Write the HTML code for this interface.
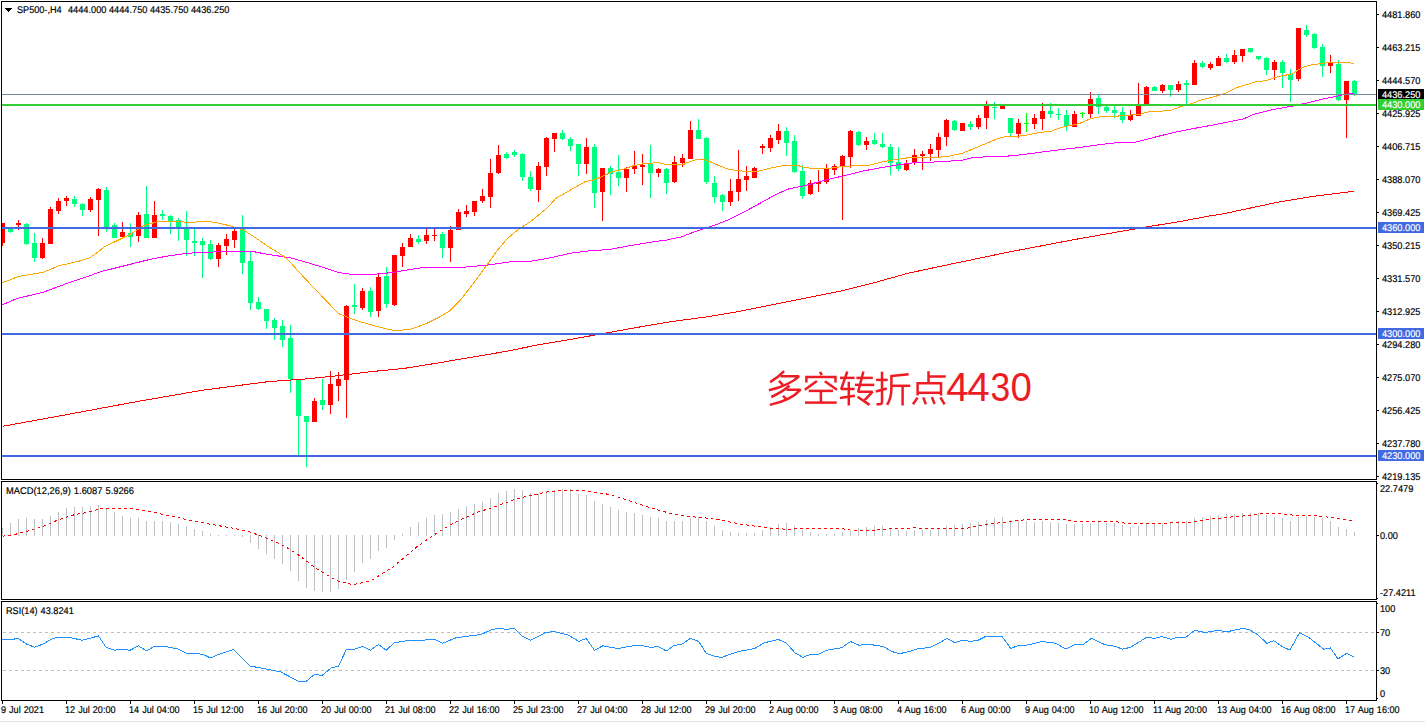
<!DOCTYPE html>
<html><head><meta charset="utf-8"><title>SP500 H4</title>
<style>
html,body{margin:0;padding:0;background:#fff;}
body{width:1425px;height:723px;overflow:hidden;font-family:"Liberation Sans",sans-serif;}
svg{display:block;}
svg text{font-family:"Liberation Sans",sans-serif;}
.t{font-size:9.8px;fill:#000;stroke:#000;stroke-width:0.18px;word-spacing:0.5px;text-rendering:geometricPrecision;}
.w{font-size:9.8px;fill:#fff;stroke:#fff;stroke-width:0.18px;text-rendering:geometricPrecision;}
.ce{shape-rendering:crispEdges;}
.pl{fill:none;stroke-width:1;shape-rendering:crispEdges;stroke-linejoin:round;}
.zh{fill:none;stroke:#ed1c24;stroke-width:2.5;stroke-linecap:butt;stroke-linejoin:miter;stroke-miterlimit:1.5;}
</style></head><body>
<svg width="1425" height="723" viewBox="0 0 1425 723">
<rect x="0" y="0" width="1425" height="723" fill="#fff"/>
<g class="ce">
<rect x="2" y="223" width="1" height="23" fill="#ff0000"/>
<rect x="2" y="223" width="3" height="20" fill="#ff0000"/>
<rect x="10" y="227" width="1" height="6" fill="#00ff7f"/>
<rect x="8" y="227" width="5" height="5" fill="#00ff7f"/>
<rect x="18" y="220" width="1" height="10" fill="#ff0000"/>
<rect x="16" y="223" width="5" height="2" fill="#ff0000"/>
<rect x="26" y="223" width="1" height="22" fill="#00ff7f"/>
<rect x="24" y="224" width="5" height="20" fill="#00ff7f"/>
<rect x="34" y="233" width="1" height="29" fill="#00ff7f"/>
<rect x="32" y="243" width="5" height="15" fill="#00ff7f"/>
<rect x="42" y="238" width="1" height="21" fill="#ff0000"/>
<rect x="40" y="243" width="5" height="15" fill="#ff0000"/>
<rect x="50" y="207" width="1" height="37" fill="#ff0000"/>
<rect x="48" y="209" width="5" height="35" fill="#ff0000"/>
<rect x="58" y="198" width="1" height="16" fill="#ff0000"/>
<rect x="56" y="201" width="5" height="10" fill="#ff0000"/>
<rect x="66" y="196" width="1" height="10" fill="#ff0000"/>
<rect x="64" y="198" width="5" height="3" fill="#ff0000"/>
<rect x="74" y="196" width="1" height="11" fill="#00ff7f"/>
<rect x="72" y="199" width="5" height="5" fill="#00ff7f"/>
<rect x="82" y="203" width="1" height="13" fill="#00ff7f"/>
<rect x="80" y="204" width="5" height="6" fill="#00ff7f"/>
<rect x="90" y="197" width="1" height="15" fill="#ff0000"/>
<rect x="88" y="199" width="5" height="11" fill="#ff0000"/>
<rect x="98" y="188" width="1" height="48" fill="#ff0000"/>
<rect x="96" y="189" width="5" height="11" fill="#ff0000"/>
<rect x="106" y="187" width="1" height="45" fill="#00ff7f"/>
<rect x="104" y="190" width="5" height="38" fill="#00ff7f"/>
<rect x="114" y="223" width="1" height="15" fill="#00ff7f"/>
<rect x="112" y="225" width="5" height="13" fill="#00ff7f"/>
<rect x="122" y="222" width="1" height="16" fill="#ff0000"/>
<rect x="120" y="232" width="5" height="5" fill="#ff0000"/>
<rect x="130" y="223" width="1" height="24" fill="#00ff7f"/>
<rect x="128" y="233" width="5" height="4" fill="#00ff7f"/>
<rect x="138" y="212" width="1" height="30" fill="#ff0000"/>
<rect x="136" y="215" width="5" height="21" fill="#ff0000"/>
<rect x="146" y="186" width="1" height="52" fill="#00ff7f"/>
<rect x="144" y="214" width="5" height="24" fill="#00ff7f"/>
<rect x="154" y="201" width="1" height="37" fill="#ff0000"/>
<rect x="152" y="215" width="5" height="23" fill="#ff0000"/>
<rect x="162" y="210" width="1" height="10" fill="#00ff7f"/>
<rect x="160" y="214" width="5" height="2" fill="#00ff7f"/>
<rect x="170" y="215" width="1" height="19" fill="#00ff7f"/>
<rect x="168" y="216" width="5" height="5" fill="#00ff7f"/>
<rect x="178" y="218" width="1" height="23" fill="#00ff7f"/>
<rect x="176" y="220" width="5" height="8" fill="#00ff7f"/>
<rect x="186" y="211" width="1" height="45" fill="#00ff7f"/>
<rect x="184" y="227" width="5" height="13" fill="#00ff7f"/>
<rect x="194" y="229" width="1" height="27" fill="#00ff7f"/>
<rect x="192" y="241" width="5" height="2" fill="#00ff7f"/>
<rect x="202" y="238" width="1" height="40" fill="#00ff7f"/>
<rect x="200" y="241" width="5" height="4" fill="#00ff7f"/>
<rect x="210" y="240" width="1" height="20" fill="#00ff7f"/>
<rect x="208" y="244" width="5" height="15" fill="#00ff7f"/>
<rect x="218" y="243" width="1" height="24" fill="#ff0000"/>
<rect x="216" y="245" width="5" height="14" fill="#ff0000"/>
<rect x="226" y="234" width="1" height="21" fill="#ff0000"/>
<rect x="224" y="239" width="5" height="7" fill="#ff0000"/>
<rect x="234" y="229" width="1" height="19" fill="#ff0000"/>
<rect x="232" y="231" width="5" height="9" fill="#ff0000"/>
<rect x="242" y="215" width="1" height="59" fill="#00ff7f"/>
<rect x="240" y="228" width="5" height="35" fill="#00ff7f"/>
<rect x="250" y="252" width="1" height="58" fill="#00ff7f"/>
<rect x="248" y="261" width="5" height="42" fill="#00ff7f"/>
<rect x="258" y="297" width="1" height="13" fill="#00ff7f"/>
<rect x="256" y="302" width="5" height="7" fill="#00ff7f"/>
<rect x="266" y="309" width="1" height="20" fill="#00ff7f"/>
<rect x="264" y="309" width="5" height="12" fill="#00ff7f"/>
<rect x="274" y="318" width="1" height="22" fill="#00ff7f"/>
<rect x="272" y="320" width="5" height="8" fill="#00ff7f"/>
<rect x="282" y="320" width="1" height="27" fill="#00ff7f"/>
<rect x="280" y="326" width="5" height="14" fill="#00ff7f"/>
<rect x="290" y="325" width="1" height="68" fill="#00ff7f"/>
<rect x="288" y="338" width="5" height="41" fill="#00ff7f"/>
<rect x="298" y="379" width="1" height="78" fill="#00ff7f"/>
<rect x="296" y="379" width="5" height="37" fill="#00ff7f"/>
<rect x="306" y="416" width="1" height="51" fill="#00ff7f"/>
<rect x="304" y="416" width="5" height="6" fill="#00ff7f"/>
<rect x="314" y="398" width="1" height="24" fill="#ff0000"/>
<rect x="312" y="401" width="5" height="21" fill="#ff0000"/>
<rect x="322" y="379" width="1" height="31" fill="#00ff7f"/>
<rect x="320" y="400" width="5" height="5" fill="#00ff7f"/>
<rect x="330" y="371" width="1" height="43" fill="#ff0000"/>
<rect x="328" y="384" width="5" height="21" fill="#ff0000"/>
<rect x="338" y="372" width="1" height="29" fill="#ff0000"/>
<rect x="336" y="379" width="5" height="7" fill="#ff0000"/>
<rect x="346" y="305" width="1" height="113" fill="#ff0000"/>
<rect x="344" y="306" width="5" height="74" fill="#ff0000"/>
<rect x="354" y="284" width="1" height="30" fill="#00ff7f"/>
<rect x="352" y="305" width="5" height="2" fill="#00ff7f"/>
<rect x="362" y="288" width="1" height="22" fill="#ff0000"/>
<rect x="360" y="291" width="5" height="17" fill="#ff0000"/>
<rect x="370" y="287" width="1" height="30" fill="#00ff7f"/>
<rect x="368" y="291" width="5" height="21" fill="#00ff7f"/>
<rect x="378" y="274" width="1" height="43" fill="#ff0000"/>
<rect x="376" y="277" width="5" height="34" fill="#ff0000"/>
<rect x="386" y="267" width="1" height="41" fill="#00ff7f"/>
<rect x="384" y="276" width="5" height="28" fill="#00ff7f"/>
<rect x="394" y="255" width="1" height="51" fill="#ff0000"/>
<rect x="392" y="255" width="5" height="50" fill="#ff0000"/>
<rect x="402" y="243" width="1" height="24" fill="#ff0000"/>
<rect x="400" y="247" width="5" height="9" fill="#ff0000"/>
<rect x="410" y="234" width="1" height="13" fill="#ff0000"/>
<rect x="408" y="238" width="5" height="9" fill="#ff0000"/>
<rect x="418" y="235" width="1" height="9" fill="#00ff7f"/>
<rect x="416" y="239" width="5" height="3" fill="#00ff7f"/>
<rect x="426" y="229" width="1" height="15" fill="#ff0000"/>
<rect x="424" y="235" width="5" height="6" fill="#ff0000"/>
<rect x="434" y="229" width="1" height="12" fill="#ff0000"/>
<rect x="432" y="235" width="5" height="1" fill="#ff0000"/>
<rect x="442" y="232" width="1" height="26" fill="#00ff7f"/>
<rect x="440" y="234" width="5" height="14" fill="#00ff7f"/>
<rect x="450" y="226" width="1" height="36" fill="#ff0000"/>
<rect x="448" y="230" width="5" height="18" fill="#ff0000"/>
<rect x="458" y="209" width="1" height="21" fill="#ff0000"/>
<rect x="456" y="212" width="5" height="18" fill="#ff0000"/>
<rect x="466" y="205" width="1" height="12" fill="#ff0000"/>
<rect x="464" y="211" width="5" height="3" fill="#ff0000"/>
<rect x="474" y="201" width="1" height="15" fill="#ff0000"/>
<rect x="472" y="201" width="5" height="11" fill="#ff0000"/>
<rect x="482" y="189" width="1" height="14" fill="#ff0000"/>
<rect x="480" y="196" width="5" height="5" fill="#ff0000"/>
<rect x="490" y="159" width="1" height="49" fill="#ff0000"/>
<rect x="488" y="173" width="5" height="24" fill="#ff0000"/>
<rect x="498" y="145" width="1" height="29" fill="#ff0000"/>
<rect x="496" y="155" width="5" height="18" fill="#ff0000"/>
<rect x="506" y="152" width="1" height="7" fill="#00ff7f"/>
<rect x="504" y="154" width="5" height="4" fill="#00ff7f"/>
<rect x="514" y="150" width="1" height="7" fill="#00ff7f"/>
<rect x="512" y="152" width="5" height="3" fill="#00ff7f"/>
<rect x="522" y="153" width="1" height="28" fill="#00ff7f"/>
<rect x="520" y="154" width="5" height="23" fill="#00ff7f"/>
<rect x="530" y="171" width="1" height="20" fill="#00ff7f"/>
<rect x="528" y="177" width="5" height="12" fill="#00ff7f"/>
<rect x="538" y="162" width="1" height="40" fill="#ff0000"/>
<rect x="536" y="166" width="5" height="24" fill="#ff0000"/>
<rect x="546" y="137" width="1" height="39" fill="#ff0000"/>
<rect x="544" y="138" width="5" height="29" fill="#ff0000"/>
<rect x="554" y="133" width="1" height="19" fill="#ff0000"/>
<rect x="552" y="133" width="5" height="6" fill="#ff0000"/>
<rect x="562" y="130" width="1" height="10" fill="#00ff7f"/>
<rect x="560" y="133" width="5" height="6" fill="#00ff7f"/>
<rect x="570" y="137" width="1" height="14" fill="#00ff7f"/>
<rect x="568" y="139" width="5" height="7" fill="#00ff7f"/>
<rect x="578" y="144" width="1" height="32" fill="#00ff7f"/>
<rect x="576" y="144" width="5" height="20" fill="#00ff7f"/>
<rect x="586" y="138" width="1" height="36" fill="#ff0000"/>
<rect x="584" y="147" width="5" height="17" fill="#ff0000"/>
<rect x="594" y="144" width="1" height="64" fill="#00ff7f"/>
<rect x="592" y="147" width="5" height="46" fill="#00ff7f"/>
<rect x="602" y="168" width="1" height="53" fill="#ff0000"/>
<rect x="600" y="168" width="5" height="24" fill="#ff0000"/>
<rect x="610" y="166" width="1" height="29" fill="#00ff7f"/>
<rect x="608" y="168" width="5" height="6" fill="#00ff7f"/>
<rect x="618" y="155" width="1" height="31" fill="#00ff7f"/>
<rect x="616" y="172" width="5" height="6" fill="#00ff7f"/>
<rect x="626" y="167" width="1" height="25" fill="#ff0000"/>
<rect x="624" y="169" width="5" height="9" fill="#ff0000"/>
<rect x="634" y="151" width="1" height="23" fill="#ff0000"/>
<rect x="632" y="166" width="5" height="3" fill="#ff0000"/>
<rect x="642" y="154" width="1" height="31" fill="#ff0000"/>
<rect x="640" y="165" width="5" height="2" fill="#ff0000"/>
<rect x="650" y="145" width="1" height="53" fill="#00ff7f"/>
<rect x="648" y="164" width="5" height="9" fill="#00ff7f"/>
<rect x="658" y="168" width="1" height="9" fill="#ff0000"/>
<rect x="656" y="169" width="5" height="4" fill="#ff0000"/>
<rect x="666" y="168" width="1" height="26" fill="#00ff7f"/>
<rect x="664" y="169" width="5" height="14" fill="#00ff7f"/>
<rect x="674" y="156" width="1" height="27" fill="#ff0000"/>
<rect x="672" y="162" width="5" height="20" fill="#ff0000"/>
<rect x="682" y="154" width="1" height="13" fill="#ff0000"/>
<rect x="680" y="158" width="5" height="5" fill="#ff0000"/>
<rect x="690" y="121" width="1" height="38" fill="#ff0000"/>
<rect x="688" y="130" width="5" height="29" fill="#ff0000"/>
<rect x="698" y="119" width="1" height="20" fill="#00ff7f"/>
<rect x="696" y="130" width="5" height="9" fill="#00ff7f"/>
<rect x="706" y="137" width="1" height="47" fill="#00ff7f"/>
<rect x="704" y="138" width="5" height="44" fill="#00ff7f"/>
<rect x="714" y="176" width="1" height="27" fill="#00ff7f"/>
<rect x="712" y="183" width="5" height="14" fill="#00ff7f"/>
<rect x="722" y="194" width="1" height="17" fill="#00ff7f"/>
<rect x="720" y="195" width="5" height="7" fill="#00ff7f"/>
<rect x="730" y="179" width="1" height="27" fill="#ff0000"/>
<rect x="728" y="191" width="5" height="11" fill="#ff0000"/>
<rect x="738" y="150" width="1" height="51" fill="#ff0000"/>
<rect x="736" y="179" width="5" height="13" fill="#ff0000"/>
<rect x="746" y="166" width="1" height="25" fill="#ff0000"/>
<rect x="744" y="176" width="5" height="4" fill="#ff0000"/>
<rect x="754" y="167" width="1" height="11" fill="#ff0000"/>
<rect x="752" y="168" width="5" height="10" fill="#ff0000"/>
<rect x="762" y="144" width="1" height="10" fill="#ff0000"/>
<rect x="760" y="146" width="5" height="2" fill="#ff0000"/>
<rect x="770" y="135" width="1" height="17" fill="#ff0000"/>
<rect x="768" y="138" width="5" height="10" fill="#ff0000"/>
<rect x="778" y="124" width="1" height="20" fill="#ff0000"/>
<rect x="776" y="131" width="5" height="9" fill="#ff0000"/>
<rect x="786" y="127" width="1" height="29" fill="#00ff7f"/>
<rect x="784" y="131" width="5" height="12" fill="#00ff7f"/>
<rect x="794" y="135" width="1" height="38" fill="#00ff7f"/>
<rect x="792" y="141" width="5" height="31" fill="#00ff7f"/>
<rect x="802" y="165" width="1" height="34" fill="#00ff7f"/>
<rect x="800" y="171" width="5" height="25" fill="#00ff7f"/>
<rect x="810" y="180" width="1" height="15" fill="#ff0000"/>
<rect x="808" y="183" width="5" height="11" fill="#ff0000"/>
<rect x="818" y="170" width="1" height="22" fill="#ff0000"/>
<rect x="816" y="182" width="5" height="2" fill="#ff0000"/>
<rect x="826" y="164" width="1" height="20" fill="#ff0000"/>
<rect x="824" y="169" width="5" height="13" fill="#ff0000"/>
<rect x="834" y="164" width="1" height="11" fill="#ff0000"/>
<rect x="832" y="166" width="5" height="4" fill="#ff0000"/>
<rect x="842" y="155" width="1" height="65" fill="#ff0000"/>
<rect x="840" y="156" width="5" height="11" fill="#ff0000"/>
<rect x="850" y="130" width="1" height="38" fill="#ff0000"/>
<rect x="848" y="131" width="5" height="26" fill="#ff0000"/>
<rect x="858" y="131" width="1" height="15" fill="#00ff7f"/>
<rect x="856" y="132" width="5" height="13" fill="#00ff7f"/>
<rect x="866" y="137" width="1" height="13" fill="#ff0000"/>
<rect x="864" y="141" width="5" height="4" fill="#ff0000"/>
<rect x="874" y="133" width="1" height="12" fill="#00ff7f"/>
<rect x="872" y="140" width="5" height="4" fill="#00ff7f"/>
<rect x="882" y="133" width="1" height="15" fill="#00ff7f"/>
<rect x="880" y="144" width="5" height="3" fill="#00ff7f"/>
<rect x="890" y="144" width="1" height="31" fill="#00ff7f"/>
<rect x="888" y="147" width="5" height="16" fill="#00ff7f"/>
<rect x="898" y="147" width="1" height="24" fill="#00ff7f"/>
<rect x="896" y="162" width="5" height="7" fill="#00ff7f"/>
<rect x="906" y="160" width="1" height="11" fill="#ff0000"/>
<rect x="904" y="163" width="5" height="7" fill="#ff0000"/>
<rect x="914" y="149" width="1" height="16" fill="#ff0000"/>
<rect x="912" y="155" width="5" height="8" fill="#ff0000"/>
<rect x="922" y="151" width="1" height="19" fill="#ff0000"/>
<rect x="920" y="154" width="5" height="2" fill="#ff0000"/>
<rect x="930" y="144" width="1" height="17" fill="#ff0000"/>
<rect x="928" y="149" width="5" height="5" fill="#ff0000"/>
<rect x="938" y="133" width="1" height="24" fill="#ff0000"/>
<rect x="936" y="137" width="5" height="13" fill="#ff0000"/>
<rect x="946" y="119" width="1" height="27" fill="#ff0000"/>
<rect x="944" y="120" width="5" height="17" fill="#ff0000"/>
<rect x="954" y="120" width="1" height="11" fill="#00ff7f"/>
<rect x="952" y="121" width="5" height="9" fill="#00ff7f"/>
<rect x="962" y="123" width="1" height="8" fill="#ff0000"/>
<rect x="960" y="123" width="5" height="8" fill="#ff0000"/>
<rect x="970" y="121" width="1" height="9" fill="#00ff7f"/>
<rect x="968" y="124" width="5" height="3" fill="#00ff7f"/>
<rect x="978" y="115" width="1" height="14" fill="#ff0000"/>
<rect x="976" y="118" width="5" height="9" fill="#ff0000"/>
<rect x="986" y="101" width="1" height="28" fill="#ff0000"/>
<rect x="984" y="106" width="5" height="12" fill="#ff0000"/>
<rect x="994" y="102" width="1" height="17" fill="#00ff7f"/>
<rect x="992" y="107" width="5" height="1" fill="#00ff7f"/>
<rect x="1002" y="104" width="1" height="5" fill="#ff0000"/>
<rect x="1000" y="104" width="5" height="5" fill="#ff0000"/>
<rect x="1010" y="118" width="1" height="19" fill="#00ff7f"/>
<rect x="1008" y="118" width="5" height="15" fill="#00ff7f"/>
<rect x="1018" y="119" width="1" height="19" fill="#ff0000"/>
<rect x="1016" y="123" width="5" height="11" fill="#ff0000"/>
<rect x="1026" y="113" width="1" height="19" fill="#00ff00"/>
<rect x="1024" y="123" width="5" height="1" fill="#00ff00"/>
<rect x="1034" y="114" width="1" height="15" fill="#ff0000"/>
<rect x="1032" y="118" width="5" height="6" fill="#ff0000"/>
<rect x="1042" y="103" width="1" height="27" fill="#ff0000"/>
<rect x="1040" y="111" width="5" height="8" fill="#ff0000"/>
<rect x="1050" y="103" width="1" height="15" fill="#00ff7f"/>
<rect x="1048" y="111" width="5" height="3" fill="#00ff7f"/>
<rect x="1058" y="108" width="1" height="12" fill="#00ff7f"/>
<rect x="1056" y="114" width="5" height="1" fill="#00ff7f"/>
<rect x="1066" y="110" width="1" height="21" fill="#00ff7f"/>
<rect x="1064" y="115" width="5" height="11" fill="#00ff7f"/>
<rect x="1074" y="111" width="1" height="16" fill="#ff0000"/>
<rect x="1072" y="114" width="5" height="13" fill="#ff0000"/>
<rect x="1082" y="112" width="1" height="6" fill="#00ff00"/>
<rect x="1080" y="113" width="5" height="1" fill="#00ff00"/>
<rect x="1090" y="92" width="1" height="27" fill="#ff0000"/>
<rect x="1088" y="99" width="5" height="15" fill="#ff0000"/>
<rect x="1098" y="94" width="1" height="20" fill="#00ff7f"/>
<rect x="1096" y="98" width="5" height="9" fill="#00ff7f"/>
<rect x="1106" y="106" width="1" height="7" fill="#00ff7f"/>
<rect x="1104" y="107" width="5" height="4" fill="#00ff7f"/>
<rect x="1114" y="106" width="1" height="12" fill="#00ff7f"/>
<rect x="1112" y="110" width="5" height="3" fill="#00ff7f"/>
<rect x="1122" y="107" width="1" height="16" fill="#00ff7f"/>
<rect x="1120" y="112" width="5" height="8" fill="#00ff7f"/>
<rect x="1130" y="110" width="1" height="11" fill="#ff0000"/>
<rect x="1128" y="115" width="5" height="5" fill="#ff0000"/>
<rect x="1138" y="83" width="1" height="33" fill="#ff0000"/>
<rect x="1136" y="105" width="5" height="11" fill="#ff0000"/>
<rect x="1146" y="86" width="1" height="19" fill="#ff0000"/>
<rect x="1144" y="87" width="5" height="18" fill="#ff0000"/>
<rect x="1154" y="86" width="1" height="5" fill="#00ff7f"/>
<rect x="1152" y="87" width="5" height="4" fill="#00ff7f"/>
<rect x="1162" y="84" width="1" height="9" fill="#ff0000"/>
<rect x="1160" y="85" width="5" height="6" fill="#ff0000"/>
<rect x="1170" y="85" width="1" height="12" fill="#00ff7f"/>
<rect x="1168" y="85" width="5" height="5" fill="#00ff7f"/>
<rect x="1178" y="81" width="1" height="11" fill="#ff0000"/>
<rect x="1176" y="84" width="5" height="6" fill="#ff0000"/>
<rect x="1186" y="80" width="1" height="24" fill="#00ff7f"/>
<rect x="1184" y="83" width="5" height="2" fill="#00ff7f"/>
<rect x="1194" y="60" width="1" height="25" fill="#ff0000"/>
<rect x="1192" y="63" width="5" height="22" fill="#ff0000"/>
<rect x="1202" y="61" width="1" height="7" fill="#00ff7f"/>
<rect x="1200" y="63" width="5" height="4" fill="#00ff7f"/>
<rect x="1210" y="62" width="1" height="8" fill="#ff0000"/>
<rect x="1208" y="64" width="5" height="4" fill="#ff0000"/>
<rect x="1218" y="56" width="1" height="10" fill="#ff0000"/>
<rect x="1216" y="58" width="5" height="8" fill="#ff0000"/>
<rect x="1226" y="54" width="1" height="9" fill="#00ff7f"/>
<rect x="1224" y="58" width="5" height="4" fill="#00ff7f"/>
<rect x="1234" y="50" width="1" height="14" fill="#ff0000"/>
<rect x="1232" y="55" width="5" height="7" fill="#ff0000"/>
<rect x="1242" y="49" width="1" height="13" fill="#ff0000"/>
<rect x="1240" y="49" width="5" height="7" fill="#ff0000"/>
<rect x="1250" y="48" width="1" height="5" fill="#00ff7f"/>
<rect x="1248" y="48" width="5" height="4" fill="#00ff7f"/>
<rect x="1258" y="56" width="1" height="4" fill="#00ff7f"/>
<rect x="1256" y="56" width="5" height="3" fill="#00ff7f"/>
<rect x="1266" y="57" width="1" height="18" fill="#00ff7f"/>
<rect x="1264" y="58" width="5" height="12" fill="#00ff7f"/>
<rect x="1274" y="60" width="1" height="20" fill="#ff0000"/>
<rect x="1272" y="62" width="5" height="8" fill="#ff0000"/>
<rect x="1282" y="60" width="1" height="28" fill="#00ff7f"/>
<rect x="1280" y="62" width="5" height="11" fill="#00ff7f"/>
<rect x="1290" y="69" width="1" height="33" fill="#00ff7f"/>
<rect x="1288" y="74" width="5" height="6" fill="#00ff7f"/>
<rect x="1298" y="28" width="1" height="53" fill="#ff0000"/>
<rect x="1296" y="28" width="5" height="51" fill="#ff0000"/>
<rect x="1306" y="25" width="1" height="12" fill="#00ff7f"/>
<rect x="1304" y="30" width="5" height="5" fill="#00ff7f"/>
<rect x="1314" y="33" width="1" height="16" fill="#00ff7f"/>
<rect x="1312" y="34" width="5" height="14" fill="#00ff7f"/>
<rect x="1322" y="44" width="1" height="33" fill="#00ff7f"/>
<rect x="1320" y="47" width="5" height="19" fill="#00ff7f"/>
<rect x="1330" y="55" width="1" height="18" fill="#ff0000"/>
<rect x="1328" y="63" width="5" height="3" fill="#ff0000"/>
<rect x="1338" y="60" width="1" height="41" fill="#00ff7f"/>
<rect x="1336" y="64" width="5" height="36" fill="#00ff7f"/>
<rect x="1346" y="81" width="1" height="57" fill="#ff0000"/>
<rect x="1344" y="81" width="5" height="19" fill="#ff0000"/>
<rect x="1354" y="80" width="1" height="16" fill="#00ff7f"/>
<rect x="1352" y="81" width="5" height="14" fill="#00ff7f"/>
</g>
<polyline class="pl" points="2.7,426.3 67.4,414.5 134.7,402 202,390.3 269.4,381.5 303,379.2 336.8,375.8 370.5,371.7 404,368.4 437.8,363 470,357.5 503.7,351.8 537.4,345 571,339.3 604.7,333.3 638.4,327.2 672,321.5 705.8,317 739.4,311.4 773,304.6 806.8,297.9 840.5,291.2 874.2,282.7 907.9,273.3 940,266.4 1007.4,252.3 1074.7,239.5 1142,227.7 1180,221.5 1209.5,216 1220,214.5 1276.8,202.4 1310.5,196.7 1353.6,191.3" stroke="#ff0000" />
<polyline class="pl" points="2.5,304.8 17,298.5 43,292.3 67,283.4 84,277.8 101,271.6 118,267.4 134.7,263.2 151.6,259 168,256 185,253.6 202,252.2 219,251.9 240,251.5 253,251.5 263,253.5 284.7,257 291.4,258 306.3,262.3 323,267.3 338.7,272.6 351.6,274.4 373,274.4 394.8,272.3 409.7,269.4 423,267.6 461,267.5 486.3,265.2 509.5,262 532.6,261 549.5,258 570.5,253.2 591.6,250.6 608.4,249.6 629.5,245.8 650.5,242.2 667.4,239.9 682,236.7 696.8,231 709.5,226.8 716.7,224.5 729,219.5 745.7,211.2 759,203.8 775.6,194.6 789,188.8 803,186 821,181.3 841,176.4 861,171.4 881,167.7 901,164.4 916.6,162.5 941.5,161.8 963,160 974.7,157.2 991.3,156.8 1012.9,155.8 1028.6,153.8 1053.5,150.5 1078.4,147.6 1100,144.6 1118,142.5 1134,142.5 1148.9,138.7 1165.5,134.5 1182,130.7 1198.7,127.6 1215.3,124.6 1231.9,121.3 1243.7,118.8 1253.4,114.5 1270.9,110 1294,105.8 1303.8,103.7 1321.2,99.4 1336.7,96.3 1346,94.2 1353.7,93.4" stroke="#ff00ff" />
<polyline class="pl" points="2.5,282.5 10,280 17.7,276.6 27,275 43,272.4 59,265.7 67,264 82.5,260.3 90,257.6 97.7,252.2 105,246.3 114.5,242 129.7,234.5 136.4,230.3 143,226 155,222.2 160,221 178.5,221 185,222.2 195,222.2 202,221 214,222.2 224,224.4 233,226.6 244.9,230.7 259.8,240.7 268,246.5 283,255.6 289.7,261.5 294.7,267.3 303,276.4 318.8,293 338.7,313.7 356.6,320.7 373,325.4 390,329.9 400,330.4 411,329 426,323.7 439.6,317 449.5,311 460,300.5 471.6,285.8 486.3,265.8 496.8,251 507.4,238.4 519,229 530.5,221.6 547.4,207.9 555.8,198.4 570.5,190 585.6,181.4 594.7,179.7 603.8,175.6 613.8,171.4 623.7,169 633.7,165.6 642,164 650.3,163.4 657,162.3 665,164.3 684,164.3 686,163 697.6,159.3 702.5,159.3 709,161.4 719,165.6 729,169.4 739,170.6 747.4,171.7 755.7,171.9 764,169.7 777,166.7 784,165.6 798,165.6 806,167.7 816,168.6 828,168.6 836,167.2 844.4,166.7 854.4,165.6 866,166 874.3,164 884.3,161.4 894.2,159.8 904,158.4 911.6,157.2 939.8,157.2 949.8,156 961.4,153.5 971.4,149.7 983,144.7 993,140.6 1001,137.6 1008,136.4 1018.6,136.3 1028.6,134.7 1040,132.5 1051.8,131 1061.8,127.2 1073.4,125 1081.7,122.7 1090,118.9 1096.6,117.3 1105,116.4 1115,116.4 1124.9,115.3 1139,114.6 1147,112.1 1170.5,110.5 1180.4,106.7 1192,103.3 1202,99.7 1213.6,96.9 1225.2,93.4 1236.9,87.5 1245.7,84.9 1255.4,82 1267,80.4 1274.7,77.5 1282.5,75.6 1292,74.2 1298,70 1303.8,67 1311.5,64.9 1321.2,63.6 1332.8,62.2 1346.4,62.2 1353.7,63.6" stroke="#ffa500" />
<g class="ce">
<rect x="2" y="104" width="1374" height="2" fill="#32cd32"/>
<rect x="2" y="227" width="1374" height="2" fill="#4169e1"/>
<rect x="2" y="333" width="1374" height="2" fill="#4169e1"/>
<rect x="2" y="455" width="1374" height="2" fill="#4169e1"/>
<rect x="2" y="94" width="1374" height="1" fill="#778899"/>
</g>
<g class="ce">
<rect x="2" y="528" width="1" height="8" fill="#c0c0c0"/>
<rect x="10" y="523" width="1" height="13" fill="#c0c0c0"/>
<rect x="18" y="519" width="1" height="17" fill="#c0c0c0"/>
<rect x="26" y="518" width="1" height="18" fill="#c0c0c0"/>
<rect x="34" y="519" width="1" height="17" fill="#c0c0c0"/>
<rect x="42" y="519" width="1" height="17" fill="#c0c0c0"/>
<rect x="50" y="516" width="1" height="20" fill="#c0c0c0"/>
<rect x="58" y="512" width="1" height="24" fill="#c0c0c0"/>
<rect x="66" y="508" width="1" height="28" fill="#c0c0c0"/>
<rect x="74" y="507" width="1" height="29" fill="#c0c0c0"/>
<rect x="82" y="507" width="1" height="29" fill="#c0c0c0"/>
<rect x="90" y="506" width="1" height="30" fill="#c0c0c0"/>
<rect x="98" y="505" width="1" height="31" fill="#c0c0c0"/>
<rect x="106" y="508" width="1" height="28" fill="#c0c0c0"/>
<rect x="114" y="512" width="1" height="24" fill="#c0c0c0"/>
<rect x="122" y="516" width="1" height="20" fill="#c0c0c0"/>
<rect x="130" y="518" width="1" height="18" fill="#c0c0c0"/>
<rect x="138" y="518" width="1" height="18" fill="#c0c0c0"/>
<rect x="146" y="521" width="1" height="15" fill="#c0c0c0"/>
<rect x="154" y="521" width="1" height="15" fill="#c0c0c0"/>
<rect x="162" y="521" width="1" height="15" fill="#c0c0c0"/>
<rect x="170" y="522" width="1" height="14" fill="#c0c0c0"/>
<rect x="178" y="524" width="1" height="12" fill="#c0c0c0"/>
<rect x="186" y="526" width="1" height="10" fill="#c0c0c0"/>
<rect x="194" y="529" width="1" height="7" fill="#c0c0c0"/>
<rect x="202" y="531" width="1" height="5" fill="#c0c0c0"/>
<rect x="210" y="534" width="1" height="2" fill="#c0c0c0"/>
<rect x="218" y="535" width="1" height="1" fill="#c0c0c0"/>
<rect x="226" y="535" width="1" height="1" fill="#c0c0c0"/>
<rect x="234" y="535" width="1" height="1" fill="#c0c0c0"/>
<rect x="242" y="535" width="1" height="2" fill="#c0c0c0"/>
<rect x="250" y="535" width="1" height="8" fill="#c0c0c0"/>
<rect x="258" y="535" width="1" height="14" fill="#c0c0c0"/>
<rect x="266" y="535" width="1" height="19" fill="#c0c0c0"/>
<rect x="274" y="535" width="1" height="24" fill="#c0c0c0"/>
<rect x="282" y="535" width="1" height="29" fill="#c0c0c0"/>
<rect x="290" y="535" width="1" height="36" fill="#c0c0c0"/>
<rect x="298" y="535" width="1" height="46" fill="#c0c0c0"/>
<rect x="306" y="535" width="1" height="53" fill="#c0c0c0"/>
<rect x="314" y="535" width="1" height="56" fill="#c0c0c0"/>
<rect x="322" y="535" width="1" height="57" fill="#c0c0c0"/>
<rect x="330" y="535" width="1" height="57" fill="#c0c0c0"/>
<rect x="338" y="535" width="1" height="54" fill="#c0c0c0"/>
<rect x="346" y="535" width="1" height="45" fill="#c0c0c0"/>
<rect x="354" y="535" width="1" height="37" fill="#c0c0c0"/>
<rect x="362" y="535" width="1" height="28" fill="#c0c0c0"/>
<rect x="370" y="535" width="1" height="24" fill="#c0c0c0"/>
<rect x="378" y="535" width="1" height="16" fill="#c0c0c0"/>
<rect x="386" y="535" width="1" height="13" fill="#c0c0c0"/>
<rect x="394" y="535" width="1" height="5" fill="#c0c0c0"/>
<rect x="402" y="534" width="1" height="2" fill="#c0c0c0"/>
<rect x="410" y="527" width="1" height="9" fill="#c0c0c0"/>
<rect x="418" y="522" width="1" height="14" fill="#c0c0c0"/>
<rect x="426" y="518" width="1" height="18" fill="#c0c0c0"/>
<rect x="434" y="515" width="1" height="21" fill="#c0c0c0"/>
<rect x="442" y="514" width="1" height="22" fill="#c0c0c0"/>
<rect x="450" y="512" width="1" height="24" fill="#c0c0c0"/>
<rect x="458" y="509" width="1" height="27" fill="#c0c0c0"/>
<rect x="466" y="506" width="1" height="30" fill="#c0c0c0"/>
<rect x="474" y="504" width="1" height="32" fill="#c0c0c0"/>
<rect x="482" y="502" width="1" height="34" fill="#c0c0c0"/>
<rect x="490" y="498" width="1" height="38" fill="#c0c0c0"/>
<rect x="498" y="493" width="1" height="43" fill="#c0c0c0"/>
<rect x="506" y="491" width="1" height="45" fill="#c0c0c0"/>
<rect x="514" y="489" width="1" height="47" fill="#c0c0c0"/>
<rect x="522" y="490" width="1" height="46" fill="#c0c0c0"/>
<rect x="530" y="493" width="1" height="43" fill="#c0c0c0"/>
<rect x="538" y="494" width="1" height="42" fill="#c0c0c0"/>
<rect x="546" y="491" width="1" height="45" fill="#c0c0c0"/>
<rect x="554" y="490" width="1" height="46" fill="#c0c0c0"/>
<rect x="562" y="489" width="1" height="47" fill="#c0c0c0"/>
<rect x="570" y="489" width="1" height="47" fill="#c0c0c0"/>
<rect x="578" y="494" width="1" height="42" fill="#c0c0c0"/>
<rect x="586" y="495" width="1" height="41" fill="#c0c0c0"/>
<rect x="594" y="501" width="1" height="35" fill="#c0c0c0"/>
<rect x="602" y="504" width="1" height="32" fill="#c0c0c0"/>
<rect x="610" y="507" width="1" height="29" fill="#c0c0c0"/>
<rect x="618" y="510" width="1" height="26" fill="#c0c0c0"/>
<rect x="626" y="512" width="1" height="24" fill="#c0c0c0"/>
<rect x="634" y="513" width="1" height="23" fill="#c0c0c0"/>
<rect x="642" y="515" width="1" height="21" fill="#c0c0c0"/>
<rect x="650" y="517" width="1" height="19" fill="#c0c0c0"/>
<rect x="658" y="518" width="1" height="18" fill="#c0c0c0"/>
<rect x="666" y="521" width="1" height="15" fill="#c0c0c0"/>
<rect x="674" y="521" width="1" height="15" fill="#c0c0c0"/>
<rect x="682" y="521" width="1" height="15" fill="#c0c0c0"/>
<rect x="690" y="518" width="1" height="18" fill="#c0c0c0"/>
<rect x="698" y="517" width="1" height="19" fill="#c0c0c0"/>
<rect x="706" y="521" width="1" height="15" fill="#c0c0c0"/>
<rect x="714" y="526" width="1" height="10" fill="#c0c0c0"/>
<rect x="722" y="530" width="1" height="6" fill="#c0c0c0"/>
<rect x="730" y="532" width="1" height="4" fill="#c0c0c0"/>
<rect x="738" y="533" width="1" height="3" fill="#c0c0c0"/>
<rect x="746" y="533" width="1" height="3" fill="#c0c0c0"/>
<rect x="754" y="533" width="1" height="3" fill="#c0c0c0"/>
<rect x="762" y="530" width="1" height="6" fill="#c0c0c0"/>
<rect x="770" y="527" width="1" height="9" fill="#c0c0c0"/>
<rect x="778" y="524" width="1" height="12" fill="#c0c0c0"/>
<rect x="786" y="523" width="1" height="13" fill="#c0c0c0"/>
<rect x="794" y="526" width="1" height="10" fill="#c0c0c0"/>
<rect x="802" y="530" width="1" height="6" fill="#c0c0c0"/>
<rect x="810" y="532" width="1" height="4" fill="#c0c0c0"/>
<rect x="818" y="534" width="1" height="2" fill="#c0c0c0"/>
<rect x="826" y="534" width="1" height="2" fill="#c0c0c0"/>
<rect x="834" y="534" width="1" height="2" fill="#c0c0c0"/>
<rect x="842" y="532" width="1" height="4" fill="#c0c0c0"/>
<rect x="850" y="530" width="1" height="6" fill="#c0c0c0"/>
<rect x="858" y="528" width="1" height="8" fill="#c0c0c0"/>
<rect x="866" y="527" width="1" height="9" fill="#c0c0c0"/>
<rect x="874" y="526" width="1" height="10" fill="#c0c0c0"/>
<rect x="882" y="526" width="1" height="10" fill="#c0c0c0"/>
<rect x="890" y="528" width="1" height="8" fill="#c0c0c0"/>
<rect x="898" y="530" width="1" height="6" fill="#c0c0c0"/>
<rect x="906" y="531" width="1" height="5" fill="#c0c0c0"/>
<rect x="914" y="530" width="1" height="6" fill="#c0c0c0"/>
<rect x="922" y="530" width="1" height="6" fill="#c0c0c0"/>
<rect x="930" y="530" width="1" height="6" fill="#c0c0c0"/>
<rect x="938" y="528" width="1" height="8" fill="#c0c0c0"/>
<rect x="946" y="526" width="1" height="10" fill="#c0c0c0"/>
<rect x="954" y="525" width="1" height="11" fill="#c0c0c0"/>
<rect x="962" y="524" width="1" height="12" fill="#c0c0c0"/>
<rect x="970" y="523" width="1" height="13" fill="#c0c0c0"/>
<rect x="978" y="522" width="1" height="14" fill="#c0c0c0"/>
<rect x="986" y="520" width="1" height="16" fill="#c0c0c0"/>
<rect x="994" y="518" width="1" height="18" fill="#c0c0c0"/>
<rect x="1002" y="517" width="1" height="19" fill="#c0c0c0"/>
<rect x="1010" y="520" width="1" height="16" fill="#c0c0c0"/>
<rect x="1018" y="520" width="1" height="16" fill="#c0c0c0"/>
<rect x="1026" y="521" width="1" height="15" fill="#c0c0c0"/>
<rect x="1034" y="522" width="1" height="14" fill="#c0c0c0"/>
<rect x="1042" y="521" width="1" height="15" fill="#c0c0c0"/>
<rect x="1050" y="522" width="1" height="14" fill="#c0c0c0"/>
<rect x="1058" y="523" width="1" height="13" fill="#c0c0c0"/>
<rect x="1066" y="524" width="1" height="12" fill="#c0c0c0"/>
<rect x="1074" y="524" width="1" height="12" fill="#c0c0c0"/>
<rect x="1082" y="524" width="1" height="12" fill="#c0c0c0"/>
<rect x="1090" y="523" width="1" height="13" fill="#c0c0c0"/>
<rect x="1098" y="522" width="1" height="14" fill="#c0c0c0"/>
<rect x="1106" y="523" width="1" height="13" fill="#c0c0c0"/>
<rect x="1114" y="523" width="1" height="13" fill="#c0c0c0"/>
<rect x="1122" y="525" width="1" height="11" fill="#c0c0c0"/>
<rect x="1130" y="527" width="1" height="9" fill="#c0c0c0"/>
<rect x="1138" y="526" width="1" height="10" fill="#c0c0c0"/>
<rect x="1146" y="524" width="1" height="12" fill="#c0c0c0"/>
<rect x="1154" y="523" width="1" height="13" fill="#c0c0c0"/>
<rect x="1162" y="523" width="1" height="13" fill="#c0c0c0"/>
<rect x="1170" y="522" width="1" height="14" fill="#c0c0c0"/>
<rect x="1178" y="521" width="1" height="15" fill="#c0c0c0"/>
<rect x="1186" y="521" width="1" height="15" fill="#c0c0c0"/>
<rect x="1194" y="518" width="1" height="18" fill="#c0c0c0"/>
<rect x="1202" y="517" width="1" height="19" fill="#c0c0c0"/>
<rect x="1210" y="516" width="1" height="20" fill="#c0c0c0"/>
<rect x="1218" y="515" width="1" height="21" fill="#c0c0c0"/>
<rect x="1226" y="514" width="1" height="22" fill="#c0c0c0"/>
<rect x="1234" y="514" width="1" height="22" fill="#c0c0c0"/>
<rect x="1242" y="513" width="1" height="23" fill="#c0c0c0"/>
<rect x="1250" y="513" width="1" height="23" fill="#c0c0c0"/>
<rect x="1258" y="513" width="1" height="23" fill="#c0c0c0"/>
<rect x="1266" y="515" width="1" height="21" fill="#c0c0c0"/>
<rect x="1274" y="517" width="1" height="19" fill="#c0c0c0"/>
<rect x="1282" y="518" width="1" height="18" fill="#c0c0c0"/>
<rect x="1290" y="521" width="1" height="15" fill="#c0c0c0"/>
<rect x="1298" y="517" width="1" height="19" fill="#c0c0c0"/>
<rect x="1306" y="516" width="1" height="20" fill="#c0c0c0"/>
<rect x="1314" y="517" width="1" height="19" fill="#c0c0c0"/>
<rect x="1322" y="518" width="1" height="18" fill="#c0c0c0"/>
<rect x="1330" y="521" width="1" height="15" fill="#c0c0c0"/>
<rect x="1338" y="527" width="1" height="9" fill="#c0c0c0"/>
<rect x="1346" y="529" width="1" height="7" fill="#c0c0c0"/>
<rect x="1354" y="532" width="1" height="4" fill="#c0c0c0"/>
</g>
<polyline class="pl" points="2.5,536.2 15,534.4 26.5,531.4 41.7,526.8 58,520 74.5,514.7 87,512.4 101,508.7 131,508.4 146.5,510.9 171.8,516.2 194.5,521.3 214.8,525 232.4,528.1 250,531.9 265.3,537.7 283,545.3 298,554.6 314.6,567.3 331,577.4 338.5,581.2 352.6,584.6 370.3,581.1 381.7,574 393,566.9 405.7,556.3 417,546.7 428.4,538.6 441,530.6 453.7,523 466.3,517.2 477.7,512.1 491.6,507.8 506.7,502.5 516.9,498.7 532,495.2 547.2,491.9 562.3,490.1 577.5,490.1 592.6,491.9 605.3,493.7 617.9,497 633,502 648.2,507 660.9,510.8 673.5,514.1 688.7,516.4 705,517.9 722.8,520.4 740.5,524.2 758,526.5 773.4,528.5 788.5,529.3 796,528.5 841.6,528.5 851.7,530.3 871.9,530.3 892,528.5 907.3,528.5 914.9,527.3 922.4,528.5 965.4,528.5 980.5,525.5 993.2,523.5 1005.8,522.2 1018.4,520.4 1031,519.2 1050,519.3 1067,519.9 1075,521.2 1118.4,522 1126.5,523.4 1156,523.9 1175,522.6 1196.7,521.8 1207.5,519.3 1229,517.2 1245.4,515.8 1258.9,513.9 1283,513.9 1294,515.3 1310,515.3 1323.7,516.6 1337,518.5 1353.4,521.2" stroke="#ff0000" stroke-dasharray="3 3"/>
<g class="ce">
<line x1="3" y1="632.5" x2="1376" y2="632.5" stroke="#c0c0c0" stroke-width="1" stroke-dasharray="3 3"/>
<line x1="3" y1="670.5" x2="1376" y2="670.5" stroke="#c0c0c0" stroke-width="1" stroke-dasharray="3 3"/>
</g>
<polyline class="pl" points="2,639.5 12.6,639.5 17.7,638.2 26.5,644 34.6,647.3 43,644 51.8,639 58,637.2 68.2,637.2 82,640.2 98.5,636 106,647.3 115,650.3 121.3,649 130,650.3 138.5,645.8 146.5,651 154,646.5 165.5,646.5 178,649 187,653.4 197,653.4 203.4,654.6 210.5,657.9 219.8,654 233.7,649.6 250,666 265.3,668.8 280.4,671.8 298,681 306.5,681 314.6,674.3 322,675.6 331,668 338.5,666 346.3,649.6 355,649 362.7,646.5 370.3,650.3 378.4,644.5 386.2,650.3 394.3,642.7 407,640.7 420.8,640.2 434.7,639.5 442.8,643.2 456.2,637.7 466.3,636.4 481.5,634.4 491.6,629.6 499.2,628.3 506.7,629.4 514.3,628.3 521.9,636 530.8,640.2 544.6,633 553.5,631.4 568.6,635.2 578.8,641.5 586.3,638.4 594.4,650.3 602.8,645.8 617.9,648.6 633,645.8 643.2,645.8 650.8,647.3 658.3,646.5 666.4,651 673.5,645.8 682.3,644 690.4,638.4 698.8,641.5 706.4,653.6 714,656 721.6,657.4 738,651.6 754.4,648.6 764.5,642.7 778.4,639.5 786,642.7 794.9,652.8 803,657.4 811.3,654 818.9,654 826.4,650.3 841.6,647.8 850.4,641.5 859.3,645.3 866.9,644 883.3,646.5 892,651.6 899.7,653.6 907.3,652 917.4,649 930,647.3 938.9,643.2 947,638.4 954.8,642.7 962.9,640.2 970.4,641.5 978,640.2 985.6,636.4 1002,636.4 1010.9,648.6 1018.4,645.3 1026,645.3 1042.4,641.5 1056,643.3 1066,649.2 1075,644.6 1083,644.6 1091.3,638.4 1104.8,644.6 1115.7,646.5 1122.4,649.2 1130.5,647.3 1146.7,637.3 1154.8,638.4 1161.6,636.5 1171,639.2 1177.8,637.3 1185.9,637.3 1194.6,630.3 1204.8,632.5 1218.3,630.3 1226.4,631.9 1242.6,628.4 1249.4,629.8 1257.5,634.6 1267,643.3 1273.7,640.6 1283.2,647.3 1290,650 1299.4,633 1307.5,636.5 1323.7,649.2 1330.5,648 1338,659 1346.7,653.3 1353.4,656.8" stroke="#1e90ff" />
<g class="ce" fill="#000">
<rect x="1" y="1" width="1376" height="1"/>
<rect x="1" y="1" width="1" height="479"/>
<rect x="1" y="479" width="1376" height="1"/>
<rect x="1376" y="1" width="1" height="479"/>
<rect x="1" y="481" width="1376" height="1"/>
<rect x="1" y="481" width="1" height="119"/>
<rect x="1" y="599" width="1376" height="1"/>
<rect x="1376" y="481" width="1" height="119"/>
<rect x="1" y="601" width="1376" height="1"/>
<rect x="1" y="601" width="1" height="100"/>
<rect x="1" y="700" width="1376" height="1"/>
<rect x="1376" y="601" width="1" height="100"/>
<rect x="1377" y="14" width="2" height="1"/>
<rect x="1377" y="47" width="2" height="1"/>
<rect x="1377" y="80" width="2" height="1"/>
<rect x="1377" y="113" width="2" height="1"/>
<rect x="1377" y="146" width="2" height="1"/>
<rect x="1377" y="179" width="2" height="1"/>
<rect x="1377" y="212" width="2" height="1"/>
<rect x="1377" y="245" width="2" height="1"/>
<rect x="1377" y="278" width="2" height="1"/>
<rect x="1377" y="311" width="2" height="1"/>
<rect x="1377" y="344" width="2" height="1"/>
<rect x="1377" y="377" width="2" height="1"/>
<rect x="1377" y="410" width="2" height="1"/>
<rect x="1377" y="443" width="2" height="1"/>
<rect x="1377" y="476" width="2" height="1"/>
<rect x="1377" y="483" width="1" height="1"/>
<rect x="1377" y="535" width="2" height="1"/>
<rect x="1377" y="598" width="1" height="1"/>
<rect x="1377" y="603" width="1" height="1"/>
<rect x="1377" y="632" width="2" height="1"/>
<rect x="1377" y="670" width="2" height="1"/>
<rect x="1377" y="698" width="1" height="1"/>
<rect x="2" y="701" width="1" height="3"/>
<rect x="66" y="701" width="1" height="3"/>
<rect x="130" y="701" width="1" height="3"/>
<rect x="194" y="701" width="1" height="3"/>
<rect x="258" y="701" width="1" height="3"/>
<rect x="322" y="701" width="1" height="3"/>
<rect x="386" y="701" width="1" height="3"/>
<rect x="450" y="701" width="1" height="3"/>
<rect x="514" y="701" width="1" height="3"/>
<rect x="578" y="701" width="1" height="3"/>
<rect x="642" y="701" width="1" height="3"/>
<rect x="706" y="701" width="1" height="3"/>
<rect x="770" y="701" width="1" height="3"/>
<rect x="834" y="701" width="1" height="3"/>
<rect x="898" y="701" width="1" height="3"/>
<rect x="962" y="701" width="1" height="3"/>
<rect x="1026" y="701" width="1" height="3"/>
<rect x="1090" y="701" width="1" height="3"/>
<rect x="1154" y="701" width="1" height="3"/>
<rect x="1218" y="701" width="1" height="3"/>
<rect x="1282" y="701" width="1" height="3"/>
<rect x="1346" y="701" width="1" height="3"/>
</g>
<g class="ce">
<rect x="0" y="721" width="1425" height="1" fill="#e3e3e3"/>
</g>
<g class="ce">
<rect x="1378" y="89" width="46" height="10" fill="#000"/>
<rect x="1378" y="99" width="46" height="11" fill="#32cd32"/>
<rect x="1378" y="222" width="46" height="11" fill="#4169e1"/>
<rect x="1378" y="328" width="46" height="11" fill="#4169e1"/>
<rect x="1378" y="450" width="46" height="11" fill="#4169e1"/>
</g>
<text class="t" transform="translate(1382,18) scale(0.94,1)">4481.860</text>
<text class="t" transform="translate(1382,51) scale(0.94,1)">4463.215</text>
<text class="t" transform="translate(1382,84) scale(0.94,1)">4444.570</text>
<text class="t" transform="translate(1382,117) scale(0.94,1)">4425.925</text>
<text class="t" transform="translate(1382,150) scale(0.94,1)">4406.715</text>
<text class="t" transform="translate(1382,183) scale(0.94,1)">4388.070</text>
<text class="t" transform="translate(1382,216) scale(0.94,1)">4369.425</text>
<text class="t" transform="translate(1382,249) scale(0.94,1)">4350.215</text>
<text class="t" transform="translate(1382,282) scale(0.94,1)">4331.570</text>
<text class="t" transform="translate(1382,315) scale(0.94,1)">4312.925</text>
<text class="t" transform="translate(1382,348) scale(0.94,1)">4294.280</text>
<text class="t" transform="translate(1382,381) scale(0.94,1)">4275.070</text>
<text class="t" transform="translate(1382,414) scale(0.94,1)">4256.425</text>
<text class="t" transform="translate(1382,447) scale(0.94,1)">4237.780</text>
<text class="t" transform="translate(1382,480) scale(0.94,1)">4219.135</text>
<text class="w" transform="translate(1382,98) scale(0.94,1)">4436.250</text>
<text class="w" transform="translate(1382,108) scale(0.94,1)">4430.000</text>
<text class="w" transform="translate(1382,231) scale(0.94,1)">4360.000</text>
<text class="w" transform="translate(1382,337) scale(0.94,1)">4300.000</text>
<text class="w" transform="translate(1382,459) scale(0.94,1)">4230.000</text>
<text class="t" transform="translate(1380,492) scale(0.94,1)">22.7479</text>
<text class="t" transform="translate(1380,539) scale(0.94,1)">0.00</text>
<text class="t" transform="translate(1380,596) scale(0.94,1)">-27.4211</text>
<text class="t" transform="translate(1380,612) scale(0.94,1)">100</text>
<text class="t" transform="translate(1380,636) scale(0.94,1)">70</text>
<text class="t" transform="translate(1380,674) scale(0.94,1)">30</text>
<text class="t" transform="translate(1380,697) scale(0.94,1)">0</text>
<text class="t" transform="translate(17,13) scale(0.93,1)">SP500-,H4</text>
<text class="t" transform="translate(68,13) scale(0.94,1)">4444.000</text>
<text class="t" transform="translate(109,13) scale(0.94,1)">4444.750</text>
<text class="t" transform="translate(150,13) scale(0.94,1)">4435.750</text>
<text class="t" transform="translate(191,13) scale(0.94,1)">4436.250</text>
<path d="M5 8h7l-3.5 4z" fill="#000" class="ce"/>
<text class="t" transform="translate(6,494) scale(0.952,1)">MACD(12,26,9) 1.6087 5.9266</text>
<text class="t" transform="translate(6,614) scale(0.936,1)">RSI(14) 43.8241</text>
<text class="t" transform="translate(1,713) scale(0.93,1)">9 Jul 2021</text>
<text class="t" transform="translate(65,713) scale(0.93,1)">12 Jul 20:00</text>
<text class="t" transform="translate(129,713) scale(0.93,1)">14 Jul 04:00</text>
<text class="t" transform="translate(193,713) scale(0.93,1)">15 Jul 12:00</text>
<text class="t" transform="translate(257,713) scale(0.93,1)">16 Jul 20:00</text>
<text class="t" transform="translate(321,713) scale(0.93,1)">20 Jul 00:00</text>
<text class="t" transform="translate(385,713) scale(0.93,1)">21 Jul 08:00</text>
<text class="t" transform="translate(449,713) scale(0.93,1)">22 Jul 16:00</text>
<text class="t" transform="translate(513,713) scale(0.93,1)">25 Jul 23:00</text>
<text class="t" transform="translate(577,713) scale(0.93,1)">27 Jul 04:00</text>
<text class="t" transform="translate(641,713) scale(0.93,1)">28 Jul 12:00</text>
<text class="t" transform="translate(705,713) scale(0.93,1)">29 Jul 20:00</text>
<text class="t" transform="translate(769,713) scale(0.93,1)">2 Aug 00:00</text>
<text class="t" transform="translate(833,713) scale(0.93,1)">3 Aug 08:00</text>
<text class="t" transform="translate(897,713) scale(0.93,1)">4 Aug 16:00</text>
<text class="t" transform="translate(961,713) scale(0.93,1)">6 Aug 00:00</text>
<text class="t" transform="translate(1025,713) scale(0.93,1)">9 Aug 04:00</text>
<text class="t" transform="translate(1089,713) scale(0.93,1)">10 Aug 12:00</text>
<text class="t" transform="translate(1153,713) scale(0.93,1)">11 Aug 20:00</text>
<text class="t" transform="translate(1217,713) scale(0.93,1)">13 Aug 04:00</text>
<text class="t" transform="translate(1281,713) scale(0.93,1)">16 Aug 08:00</text>
<text class="t" transform="translate(1345,713) scale(0.93,1)">17 Aug 16:00</text>
<g class="zh">
<path d="M784.1 371.2 Q778 377.5 770.1 382.1"/>
<path d="M780.4 376.3 H799 Q790 385 768.9 390.3"/>
<path d="M778.9 380.9 L782.9 384.9"/>
<path d="M789.5 385.8 Q782.2 392 771.3 397"/>
<path d="M786.5 389.7 H800.5 Q791 400.5 769.8 404.9"/>
<path d="M782.9 395.8 L786.5 399.2"/>
<path d="M820 371.8 L821.8 375.1"/>
<path d="M806.4 382.4 V377 H835.5 V382.4"/>
<path d="M816.9 380.9 L804.8 389.7"/>
<path d="M824.8 381.2 L837 389.7"/>
<path d="M808.7 390.9 H833"/>
<path d="M820.9 390.9 V402.5"/>
<path d="M805 402.6 H836.7"/>
<path d="M840 377.9 H854.6"/>
<path d="M847.3 371.5 L841.2 389.1 H854.6"/>
<path d="M848.8 381.8 V405.5"/>
<path d="M840 397.9 L854.9 395.8"/>
<path d="M856.4 377.9 H872.8"/>
<path d="M854.9 384.9 H874.3"/>
<path d="M863.4 371.5 L858.2 391.8 H872.5 L864.6 400.1"/>
<path d="M857.6 396.7 L869.5 404.9"/>
<path d="M876.1 379.9 H887.7"/>
<path d="M882 371.8 V402 Q882 404.2 879.5 404.2 H876.5"/>
<path d="M875.8 391.5 L886.8 388.5"/>
<path d="M908.7 374.2 L891.4 375.9"/>
<path d="M891.4 375 V388 Q891.4 398 887.1 404.9"/>
<path d="M891.4 385.8 H910.2"/>
<path d="M902.6 385.8 V405.5"/>
<path d="M928.5 371.2 V383.3"/>
<path d="M928.5 376.5 H945.8"/>
<path d="M917.6 395.5 V383.3 H941 V395.5"/>
<path d="M917.6 392.8 H941"/>
<path d="M917.6 397.6 L913 404.3"/>
<path d="M923.3 397.3 L925.8 404.3"/>
<path d="M931.9 397 L934.6 404"/>
<path d="M940.4 397.3 L944.6 404.3"/>
</g>
<text transform="translate(946.3,401.2) scale(1.0,1)" font-size="40.3" fill="#ed1c24">4</text>
<text transform="translate(967.3,401.2) scale(1.0,1)" font-size="40.3" fill="#ed1c24">4</text>
<text transform="translate(990.6,401.2) scale(0.88,1)" font-size="40.3" fill="#ed1c24">3</text>
<text transform="translate(1010.4,401.2) scale(0.955,1)" font-size="40.3" fill="#ed1c24">0</text>
</svg>
</body></html>
